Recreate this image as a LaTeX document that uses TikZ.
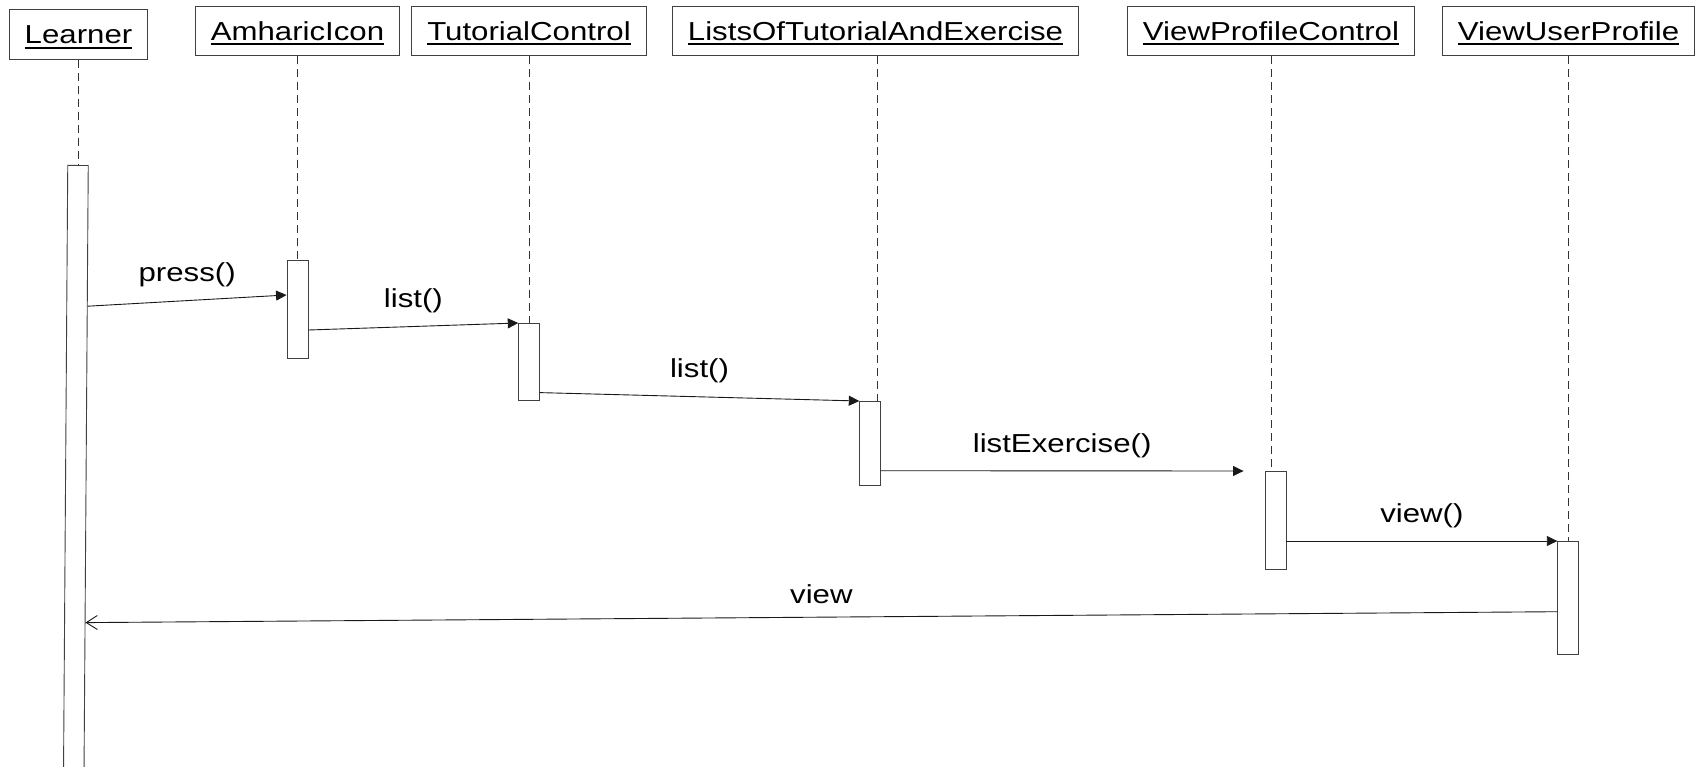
\documentclass[tikz,border=0pt]{standalone}
\usepackage{fontspec}
\setmainfont{Liberation Sans}[FakeStretch=1.2]
\usetikzlibrary{arrows.meta,calc}
\newcommand\objfont{\fontsize{26}{30}\selectfont}
\newcommand\uname[1]{\setbox0=\hbox{#1}\rlap{\rule[-5pt]{\wd0}{2pt}}\box0}
\tikzset{
	objbox/.style={draw=black!75, line width=0.9pt, inner xsep=15.5pt, inner ysep=0pt, minimum height=49.5pt, text height=18pt, text depth=0pt, font=\objfont},
	actbar/.style={draw=black!75, fill=white, line width=0.9pt, minimum width=20.5pt, inner sep=0pt, anchor=north},
	lifeline/.style={draw=black!80, line width=0.8pt, dash pattern=on 8pt off 5pt},
	msg/.style={draw=black!90, line width=0.9pt, -{Triangle[length=10.5pt,width=10pt]}},
	reply/.style={draw=black!90, line width=0.9pt, -{Straight Barb[length=11pt,width=14pt]}},
	msglabel/.style={midway, above=13pt, inner sep=0pt, font=\objfont}
}
\begin{document}
\begin{tikzpicture}[x=1pt, y=-1pt]
			%%%%% START %%%%%
			\useasboundingbox (0,0) rectangle (1696,766);
			
			\node[objbox] (learner) at (78.5,34.5) {\uname{Learner}};
			\node[objbox] (amharic) at (297.5,31) {\uname{AmharicIcon}};
			\node[objbox] (tutctrl) at (529,31) {\uname{TutorialControl}};
			\node[objbox] (lists) at (875.5,31) {\uname{ListsOfTutorialAndExercise}};
			\node[objbox] (viewctrl) at (1271,31) {\uname{ViewProfileControl}};
			\node[objbox] (viewuser) at (1568.5,31) {\uname{ViewUserProfile}};
			
			\draw[lifeline] (learner.south) -- (78.5,165);
			\draw[lifeline] (amharic.south) -- (297.5,260);
			\draw[lifeline] (tutctrl.south) -- (529,323);
			\draw[lifeline] ([xshift=1.5pt]lists.south) -- (877,401);
			\draw[lifeline] (viewctrl.south) -- (1271,471);
			\draw[lifeline] (viewuser.south) -- (1568.5,541);
			
			\node[actbar, minimum height=610pt, rotate=-0.4] (learnact) at (78,165) {};
			\node[actbar, minimum height=98pt, minimum width=21pt] (amhact) at (297.5,260) {};
			\node[actbar, minimum height=77pt] (tutact) at (529,323) {};
			\node[actbar, minimum height=84pt] (listsact) at (870,401) {};
			\node[actbar, minimum height=98pt, minimum width=21pt] (vpact) at (1275.5,471) {};
			\node[actbar, minimum height=113pt] (vuact) at (1568,541) {};
			
			\draw[msg] ($(learnact.north east)!0.231!(learnact.south east)$) -- node[msglabel] {press()} ([yshift=-35pt]amhact.north west);
			\draw[msg] ([yshift=-70pt]amhact.north east) -- node[msglabel] {list()} (tutact.north west);
			\draw[msg] ([yshift=-69.6pt]tutact.north east) -- node[msglabel] {list()} (listsact.north west);
			\draw[msg] ([yshift=-69.7pt]listsact.north east) -- node[msglabel] {listExercise()} ([xshift=-21pt]vpact.north west);
			\draw[msg] ([yshift=-70pt]vpact.north east) -- node[msglabel] {view()} (vuact.north west);
			\draw[reply] ([yshift=-70.7pt]vuact.north west) -- node[msglabel] {view} ($(learnact.north east)!0.749!(learnact.south east)$);
			
			%%%%% END %%%%%
\end{tikzpicture}
\end{document}
